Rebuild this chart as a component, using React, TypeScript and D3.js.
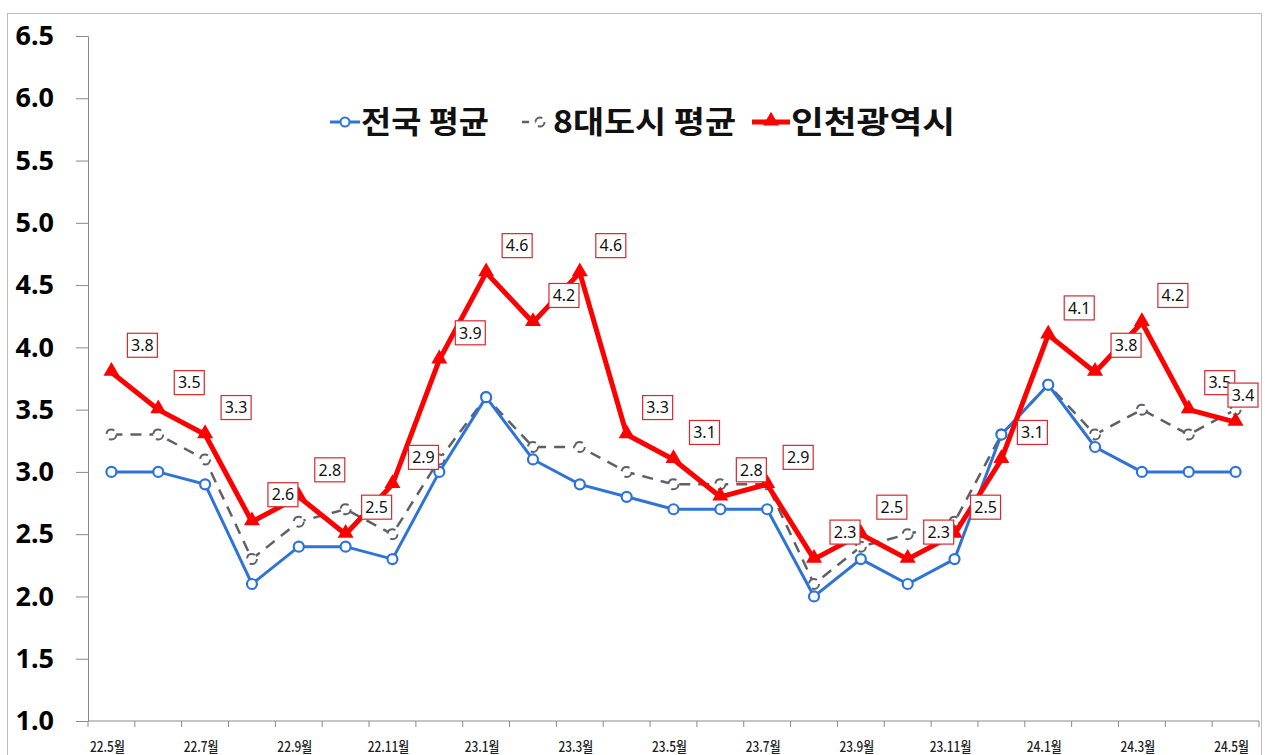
import { useEffect, useRef } from 'react'
import * as d3 from 'd3'

const months = [
  '22.5월', '22.6월', '22.7월', '22.8월', '22.9월', '22.10월', '22.11월', '22.12월',
  '23.1월', '23.2월', '23.3월', '23.4월', '23.5월', '23.6월', '23.7월', '23.8월',
  '23.9월', '23.10월', '23.11월', '23.12월', '24.1월', '24.2월', '24.3월', '24.4월', '24.5월'
]
const shownLabels = ['22.5월', '22.7월', '22.9월', '22.11월', '23.1월', '23.3월', '23.5월', '23.7월', '23.9월', '23.11월', '24.1월', '24.3월', '24.5월']

const national = [3.0, 3.0, 2.9, 2.1, 2.4, 2.4, 2.3, 3.0, 3.6, 3.1, 2.9, 2.8, 2.7, 2.7, 2.7, 2.0, 2.3, 2.1, 2.3, 3.3, 3.7, 3.2, 3.0, 3.0, 3.0]
const eightCities = [3.3, 3.3, 3.1, 2.3, 2.6, 2.7, 2.5, 3.1, 3.6, 3.2, 3.2, 3.0, 2.9, 2.9, 2.9, 2.1, 2.4, 2.5, 2.6, 3.3, 3.7, 3.3, 3.5, 3.3, 3.5]
const incheon = [3.8, 3.5, 3.3, 2.6, 2.8, 2.5, 2.9, 3.9, 4.6, 4.2, 4.6, 3.3, 3.1, 2.8, 2.9, 2.3, 2.5, 2.3, 2.5, 3.1, 4.1, 3.8, 4.2, 3.5, 3.4]

const yTicks = [1.0, 1.5, 2.0, 2.5, 3.0, 3.5, 4.0, 4.5, 5.0, 5.5, 6.0, 6.5]

const BLUE = '#2e74d8'
const GRAY = '#5f6166'
const RED = '#ff0000'
const KR = '"Noto Sans CJK KR", "Noto Sans", sans-serif'

export default function App() {
  const ref = useRef<SVGSVGElement>(null)

  useEffect(() => {
    const width = 1265
    const left = 88
    const right = 1259
    const top = 36
    const bottom = 721

    const svg = d3.select(ref.current)
    svg.selectAll('*').remove()

    // outer frame
    svg.append('rect')
      .attr('x', 7.5).attr('y', 13.5)
      .attr('width', 1254).attr('height', 760)
      .attr('fill', 'white').attr('stroke', '#bdbdbd')

    const x = d3.scaleBand().domain(months).range([left, right])
    const cx = (m: string) => (x(m) as number) + x.bandwidth() / 2
    const y = d3.scaleLinear().domain([1.0, 6.5]).range([bottom, top])

    // y axis
    const yAxis = svg.append('g').attr('transform', `translate(${left},0)`)
      .call(d3.axisLeft(y).tickValues(yTicks).tickSize(12).tickPadding(22).tickFormat(d3.format('.1f')))
    yAxis.select('.domain').attr('stroke', '#8a8a8a')
    yAxis.selectAll('.tick line').attr('stroke', '#8a8a8a')
    yAxis.selectAll('.tick text')
      .attr('font-family', '"Noto Sans", sans-serif')
      .attr('font-weight', 'bold')
      .attr('font-size', 27)
      .attr('fill', '#000')

    // x axis
    const xAxis = svg.append('g').attr('transform', `translate(0,${bottom})`)
    xAxis.append('line')
      .attr('x1', left).attr('x2', right)
      .attr('stroke', '#8a8a8a')
    const boundaries = months.map(m => x(m) as number).concat([right])
    xAxis.selectAll('line.tk').data(boundaries).join('line')
      .attr('class', 'tk')
      .attr('x1', d => d).attr('x2', d => d)
      .attr('y1', 0).attr('y2', 6)
      .attr('stroke', '#8a8a8a')
    xAxis.selectAll('text').data(shownLabels).join('text')
      .attr('x', d => cx(d) - 4)
      .attr('y', 31)
      .attr('text-anchor', 'middle')
      .attr('font-family', KR)
      .attr('font-weight', 500)
      .attr('font-size', 14)
      .attr('fill', '#222')
      .attr('transform', d => `translate(${cx(d) - 4},0) scale(0.85,1) translate(${-(cx(d) - 4)},0)`)
      .text(d => d)

    const line = d3.line<number>()
      .x((_, i) => cx(months[i]))
      .y(d => y(d))

    // 8 cities (dashed gray)
    svg.append('path').datum(eightCities)
      .attr('d', line)
      .attr('fill', 'none')
      .attr('stroke', GRAY)
      .attr('stroke-width', 2.5)
      .attr('stroke-dasharray', '11,8')
    svg.append('g').selectAll('circle').data(eightCities).join('circle')
      .attr('cx', (_, i) => cx(months[i]))
      .attr('cy', d => y(d))
      .attr('r', 5)
      .attr('fill', 'white')
      .attr('stroke', GRAY)
      .attr('stroke-width', 2)
      .attr('stroke-dasharray', '10,6')

    // national (blue)
    svg.append('path').datum(national)
      .attr('d', line)
      .attr('fill', 'none')
      .attr('stroke', BLUE)
      .attr('stroke-width', 3)
    svg.append('g').selectAll('circle').data(national).join('circle')
      .attr('cx', (_, i) => cx(months[i]))
      .attr('cy', d => y(d))
      .attr('r', 5)
      .attr('fill', 'white')
      .attr('stroke', BLUE)
      .attr('stroke-width', 2.2)

    // incheon (red)
    svg.append('path').datum(incheon)
      .attr('d', line)
      .attr('fill', 'none')
      .attr('stroke', RED)
      .attr('stroke-width', 5)
      .attr('stroke-linejoin', 'round')
    const tri = d3.symbol().type(d3.symbolTriangle).size(110)
    svg.append('g').selectAll('path').data(incheon).join('path')
      .attr('d', tri)
      .attr('transform', (d, i) => `translate(${cx(months[i])},${y(d) - 1})`)
      .attr('fill', RED)

    // data labels
    const lab = svg.append('g').selectAll('g').data(incheon).join('g')
      .attr('transform', (d, i) => {
        const lx = Math.min(cx(months[i]) + 31, width - 22)
        return `translate(${lx},${y(d) - 27})`
      })
    lab.append('rect')
      .attr('x', -15).attr('y', -12)
      .attr('width', 30).attr('height', 24)
      .attr('fill', 'white')
      .attr('stroke', '#d9272e')
      .attr('stroke-width', 1.2)
    lab.append('text')
      .attr('text-anchor', 'middle')
      .attr('dy', '0.36em')
      .attr('font-family', '"Noto Sans", sans-serif')
      .attr('font-size', 16)
      .attr('fill', '#111')
      .text(d => d3.format('.1f')(d))

    // legend
    const legend = svg.append('g').attr('transform', 'translate(0,122)')
    const items = [
      { name: '전국 평균', x: 330, color: BLUE, kind: 'circle' },
      { name: '8대도시 평균', x: 522, color: GRAY, kind: 'dash' },
      { name: '인천광역시', x: 752, color: RED, kind: 'tri' }
    ]
    items.forEach(it => {
      const g = legend.append('g').attr('transform', `translate(${it.x},0)`)
      if (it.kind === 'circle') {
        g.append('line').attr('x1', 0).attr('x2', 30).attr('stroke', it.color).attr('stroke-width', 3)
        g.append('circle').attr('cx', 15).attr('r', 4.5).attr('fill', 'white').attr('stroke', it.color).attr('stroke-width', 2)
      } else if (it.kind === 'dash') {
        g.append('line').attr('x1', 0).attr('x2', 26).attr('stroke', it.color).attr('stroke-width', 2.5).attr('stroke-dasharray', '7,6')
        g.append('circle').attr('cx', 18).attr('r', 4.5).attr('fill', 'white').attr('stroke', it.color).attr('stroke-width', 2).attr('stroke-dasharray', '9,5')
      } else {
        g.append('line').attr('x1', 0).attr('x2', 38).attr('stroke', it.color).attr('stroke-width', 5)
        g.append('path').attr('d', tri).attr('transform', 'translate(19,-1)').attr('fill', it.color)
      }
      g.append('text')
        .attr('x', it.kind === 'tri' ? 39 : 31)
        .attr('dy', '0.36em')
        .attr('font-family', KR)
        .attr('font-weight', 'bold')
        .attr('font-size', 31)
        .attr('fill', '#111')
        .attr('textLength', it.kind === 'circle' ? 128 : it.kind === 'dash' ? 183 : 164)
        .attr('lengthAdjust', 'spacingAndGlyphs')
        .text(it.name)
    })
  }, [])

  return (
    <svg ref={ref} width={1265} height={755}
      style={{ position: 'absolute', left: 0, top: 0, background: 'white' }} />
  )
}
